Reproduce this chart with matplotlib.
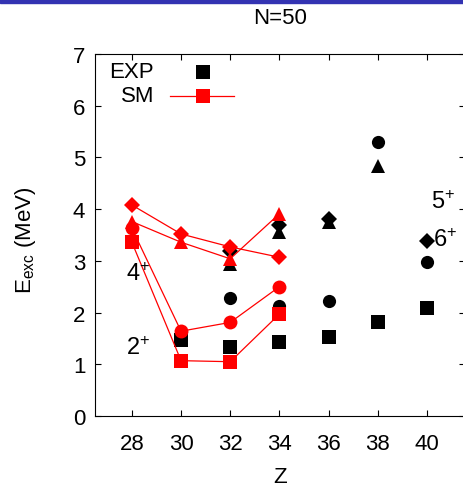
import matplotlib
matplotlib.use("Agg")
import matplotlib.pyplot as plt
from matplotlib.patches import Rectangle

plt.rcParams['font.family'] = ['Liberation Sans', 'DejaVu Sans']
plt.rcParams['mathtext.fontset'] = 'custom'
plt.rcParams['mathtext.rm'] = 'Liberation Sans'
plt.rcParams['mathtext.it'] = 'Liberation Sans'
plt.rcParams['mathtext.bf'] = 'Liberation Sans'

# shell model (SM), Z = 28..34
z_sm = [28, 30, 32, 34]
sm_2 = [3.36, 1.07, 1.05, 1.97]
sm_4 = [3.63, 1.64, 1.81, 2.50]
sm_5 = [3.76, 3.36, 3.04, 3.91]
sm_6 = [4.08, 3.52, 3.27, 3.07]

# experiment (EXP)
z_exp2 = [30, 32, 34, 36, 38, 40]
exp_2 = [1.46, 1.34, 1.44, 1.53, 1.82, 2.08]
z_exp4 = [32, 34, 36, 38, 40]
exp_4 = [2.28, 2.13, 2.23, 5.29, 2.98]
z_exp5 = [32, 34, 36, 38]
exp_5 = [2.94, 3.55, 3.76, 4.84]
z_exp6 = [32, 34, 36, 40]
exp_6 = [3.20, 3.69, 3.80, 3.39]

W, H = 463, 489
fig = plt.figure(figsize=(W / 100, H / 100), dpi=100)
ax = fig.add_axes([95 / W, 1 - 417 / H, 370 / W, 362 / H])

red = '#ff0000'
fs = 16

# EXP first so SM sits on top
ax.plot(z_exp2, exp_2, 's', color='k', ms=10, mew=0, ls='none')
ax.plot(z_exp4, exp_4, 'o', color='k', ms=9.5, mew=0, ls='none')
ax.plot(z_exp5, exp_5, '^', color='k', ms=9.5, mew=0, ls='none')
ax.plot(z_exp6, exp_6, 'D', color='k', ms=7.8, mew=0, ls='none')

ax.plot(z_sm, sm_6, '-D', color=red, lw=0.9, ms=8, mew=0)
ax.plot(z_sm, sm_5, '-^', color=red, lw=0.9, ms=9.5, mew=0)
ax.plot(z_sm, sm_4, '-o', color=red, lw=0.9, ms=10, mew=0)
ax.plot(z_sm, sm_2, '-s', color=red, lw=0.9, ms=10, mew=0)

ax.text(28.25, 2.75, r'$\mathregular{4^{+}}$', fontsize=fs + 1, ha='center', va='center')
ax.text(28.25, 1.33, r'$\mathregular{2^{+}}$', fontsize=fs + 1, ha='center', va='center')
ax.text(40.66, 4.14, r'$\mathregular{5^{+}}$', fontsize=fs + 1, ha='center', va='center')
ax.text(40.73, 3.42, r'$\mathregular{6^{+}}$', fontsize=fs + 1, ha='center', va='center')

ax.set_xlim(26.5, 41.55)
ax.set_ylim(0, 7)
ax.set_xticks([28, 30, 32, 34, 36, 38, 40])
ax.set_yticks(range(8))
ax.tick_params(direction='in', length=4, width=0.8, top=True, right=True,
               labelsize=fs)
ax.tick_params(axis='x', pad=12)
ax.tick_params(axis='y', pad=7)
for s in ax.spines.values():
    s.set_linewidth(0.8)

# legend drawn by hand, text right-justified like gnuplot
def fx(px):
    return px / W

def fy(py):
    return 1 - py / H

fig.text(fx(154), fy(73), 'EXP', fontsize=fs, ha='right', va='center')
fig.text(fx(154), fy(97), 'SM', fontsize=fs, ha='right', va='center')
fig.lines.append(plt.Line2D([fx(203)], [fy(73)], marker='s', color='k', ms=10,
                            mew=0, ls='none', transform=fig.transFigure))
fig.lines.append(plt.Line2D([fx(170), fx(234)], [fy(97), fy(97)], color=red,
                            lw=0.9, transform=fig.transFigure))
fig.lines.append(plt.Line2D([fx(203)], [fy(97)], marker='s', color=red, ms=10,
                            mew=0, ls='none', transform=fig.transFigure))

fig.text(fx(280), fy(19), 'N=50', fontsize=16, ha='center', va='center')
fig.text(fx(280), fy(478), 'Z', fontsize=fs, ha='center', va='center')
fig.text(fx(25), fy(240), r'E$_{\mathregular{exc}}$ (MeV)', fontsize=fs,
         ha='center', va='center', rotation=90)

# header bar
fig.patches.append(Rectangle((0, 1 - 4 / H), 1, 4 / H, color='#3333b2',
                             transform=fig.transFigure, figure=fig))

fig.savefig('out.png', dpi=100)
